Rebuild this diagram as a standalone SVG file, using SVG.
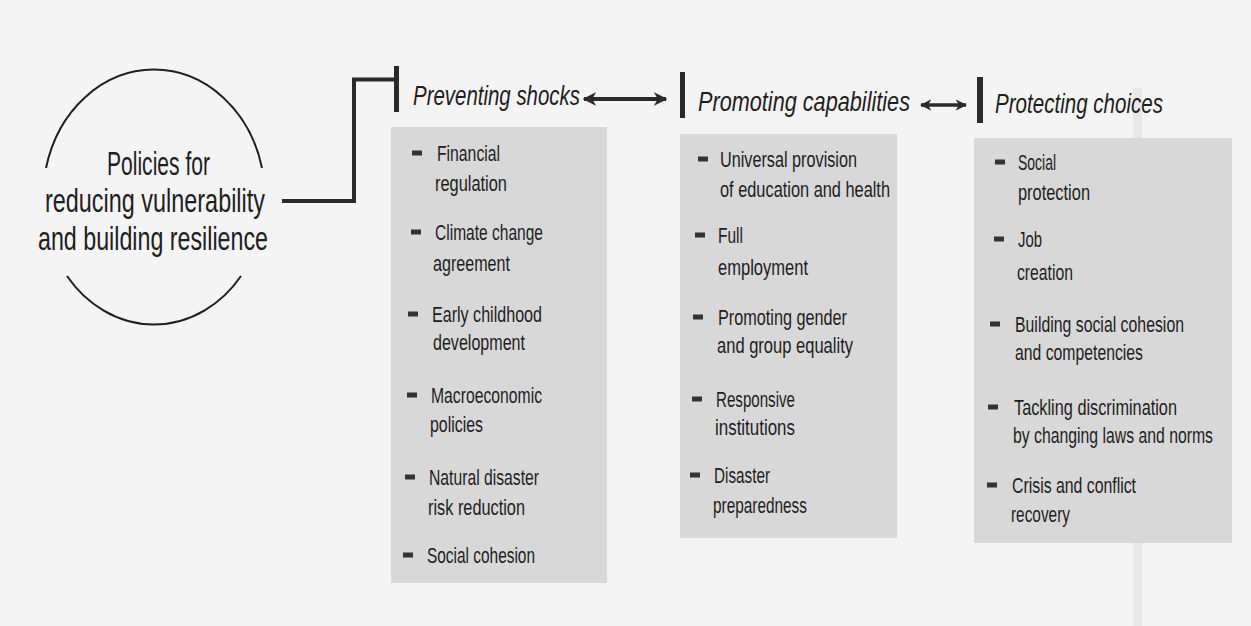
<svg xmlns="http://www.w3.org/2000/svg" width="1251" height="626" viewBox="0 0 1251 626">
<style>
  .bg{fill:#f4f4f4}
  .box{fill:#d8d8d8}
  .fold{fill:#000;opacity:0.05}
  .t{font-family:"Liberation Sans",Arial,sans-serif;fill:#1e1e1e}
  .title{font-size:34px}
  .head{font-size:28px;font-style:italic}
  .item{font-size:22px}
  .bul{fill:#333333}
  .bar{fill:#2a2a2a}
  .arc{fill:none;stroke:#1e1e1e;stroke-width:2}
  .conn{fill:none;stroke:#2a2a2a;stroke-width:4;stroke-linejoin:miter}
  .dbl{fill:none;stroke:#2a2a2a}
</style>
<defs>
  <marker id="ah" viewBox="0 0 10 10" refX="9" refY="5" markerWidth="3.4" markerHeight="3.4" orient="auto-start-reverse" markerUnits="strokeWidth">
    <path d="M0,0 L10,5 L0,10 L3,5 z" fill="#2a2a2a"/>
  </marker>
</defs>
<rect class="bg" x="0" y="0" width="1251" height="626"/>
<rect class="fold" x="1133" y="88" width="9" height="50"/>
<rect class="fold" x="1133" y="543" width="9" height="83"/>

<g id="root-node">
  <path class="arc" d="M 46 168 A 111 128 0 0 1 262 168"/>
  <path class="arc" d="M 67 276 A 111 128 0 0 0 241 276"/>
  <text class="t title" x="107" y="175" textLength="103" lengthAdjust="spacingAndGlyphs">Policies for</text>
  <text class="t title" x="45" y="212" textLength="220" lengthAdjust="spacingAndGlyphs">reducing vulnerability</text>
  <text class="t title" x="38" y="250" textLength="230" lengthAdjust="spacingAndGlyphs">and building resilience</text>
</g>

<g id="connectors">
  <path class="conn" d="M 282 201 L 354 201 L 354 79.5 L 396 79.5"/>
  <line class="dbl" x1="584" y1="99" x2="666" y2="99" stroke-width="4" marker-start="url(#ah)" marker-end="url(#ah)"/>
  <line class="dbl" x1="921" y1="105" x2="966" y2="105" stroke-width="3.4" marker-start="url(#ah)" marker-end="url(#ah)"/>
</g>

<g id="preventing-shocks">
  <rect class="bar" x="394" y="66" width="5" height="46"/>
  <text class="t head" x="413" y="105" textLength="167" lengthAdjust="spacingAndGlyphs">Preventing shocks</text>
  <rect class="box" x="391" y="127" width="216" height="456"/>
  <rect class="bul" x="412" y="150.5" width="10" height="5"/>
  <text class="t item" x="437" y="161" textLength="63" lengthAdjust="spacingAndGlyphs">Financial</text>
  <text class="t item" x="435" y="191" textLength="72" lengthAdjust="spacingAndGlyphs">regulation</text>
  <rect class="bul" x="411" y="229.5" width="10" height="5"/>
  <text class="t item" x="435" y="240" textLength="108" lengthAdjust="spacingAndGlyphs">Climate change</text>
  <text class="t item" x="433" y="271" textLength="77" lengthAdjust="spacingAndGlyphs">agreement</text>
  <rect class="bul" x="408" y="311.5" width="10" height="5"/>
  <text class="t item" x="432" y="322" textLength="110" lengthAdjust="spacingAndGlyphs">Early childhood</text>
  <text class="t item" x="433" y="350" textLength="92" lengthAdjust="spacingAndGlyphs">development</text>
  <rect class="bul" x="407" y="392.5" width="10" height="5"/>
  <text class="t item" x="431" y="403" textLength="111" lengthAdjust="spacingAndGlyphs">Macroeconomic</text>
  <text class="t item" x="430" y="432" textLength="53" lengthAdjust="spacingAndGlyphs">policies</text>
  <rect class="bul" x="405" y="474.5" width="10" height="5"/>
  <text class="t item" x="429" y="485" textLength="110" lengthAdjust="spacingAndGlyphs">Natural disaster</text>
  <text class="t item" x="428" y="515" textLength="97" lengthAdjust="spacingAndGlyphs">risk reduction</text>
  <rect class="bul" x="403" y="552.5" width="10" height="5"/>
  <text class="t item" x="427" y="563" textLength="108" lengthAdjust="spacingAndGlyphs">Social cohesion</text>
</g>

<g id="promoting-capabilities">
  <rect class="bar" x="680" y="72" width="5" height="46"/>
  <text class="t head" x="698" y="111" textLength="212" lengthAdjust="spacingAndGlyphs">Promoting capabilities</text>
  <rect class="box" x="680" y="134" width="217" height="404"/>
  <rect class="bul" x="698" y="156.5" width="10" height="5"/>
  <text class="t item" x="720" y="167" textLength="137" lengthAdjust="spacingAndGlyphs">Universal provision</text>
  <text class="t item" x="720" y="197" textLength="170" lengthAdjust="spacingAndGlyphs">of education and health</text>
  <rect class="bul" x="695" y="232.5" width="10" height="5"/>
  <text class="t item" x="718" y="243" textLength="25" lengthAdjust="spacingAndGlyphs">Full</text>
  <text class="t item" x="718" y="275" textLength="90" lengthAdjust="spacingAndGlyphs">employment</text>
  <rect class="bul" x="693" y="314.5" width="10" height="5"/>
  <text class="t item" x="718" y="325" textLength="129" lengthAdjust="spacingAndGlyphs">Promoting gender</text>
  <text class="t item" x="717" y="353" textLength="136" lengthAdjust="spacingAndGlyphs">and group equality</text>
  <rect class="bul" x="692" y="396.5" width="10" height="5"/>
  <text class="t item" x="716" y="407" textLength="79" lengthAdjust="spacingAndGlyphs">Responsive</text>
  <text class="t item" x="715" y="435" textLength="80" lengthAdjust="spacingAndGlyphs">institutions</text>
  <rect class="bul" x="690" y="472.5" width="10" height="5"/>
  <text class="t item" x="714" y="483" textLength="56" lengthAdjust="spacingAndGlyphs">Disaster</text>
  <text class="t item" x="713" y="513" textLength="94" lengthAdjust="spacingAndGlyphs">preparedness</text>
</g>

<g id="protecting-choices">
  <rect class="bar" x="977" y="77" width="6" height="46"/>
  <text class="t head" x="995" y="113" textLength="168" lengthAdjust="spacingAndGlyphs">Protecting choices</text>
  <rect class="box" x="974" y="138" width="258" height="405"/>
  <rect class="bul" x="995" y="159.5" width="10" height="5"/>
  <text class="t item" x="1018" y="170" textLength="38" lengthAdjust="spacingAndGlyphs">Social</text>
  <text class="t item" x="1018" y="200" textLength="72" lengthAdjust="spacingAndGlyphs">protection</text>
  <rect class="bul" x="994" y="236.5" width="10" height="5"/>
  <text class="t item" x="1018" y="247" textLength="24" lengthAdjust="spacingAndGlyphs">Job</text>
  <text class="t item" x="1017" y="280" textLength="56" lengthAdjust="spacingAndGlyphs">creation</text>
  <rect class="bul" x="990" y="321.5" width="10" height="5"/>
  <text class="t item" x="1015" y="332" textLength="169" lengthAdjust="spacingAndGlyphs">Building social cohesion</text>
  <text class="t item" x="1015" y="360" textLength="128" lengthAdjust="spacingAndGlyphs">and competencies</text>
  <rect class="bul" x="988" y="404.5" width="10" height="5"/>
  <text class="t item" x="1014" y="415" textLength="163" lengthAdjust="spacingAndGlyphs">Tackling discrimination</text>
  <text class="t item" x="1013" y="443" textLength="200" lengthAdjust="spacingAndGlyphs">by changing laws and norms</text>
  <rect class="bul" x="987" y="482.5" width="10" height="5"/>
  <text class="t item" x="1012" y="493" textLength="124" lengthAdjust="spacingAndGlyphs">Crisis and conflict</text>
  <text class="t item" x="1011" y="522" textLength="59" lengthAdjust="spacingAndGlyphs">recovery</text>
</g>
</svg>
